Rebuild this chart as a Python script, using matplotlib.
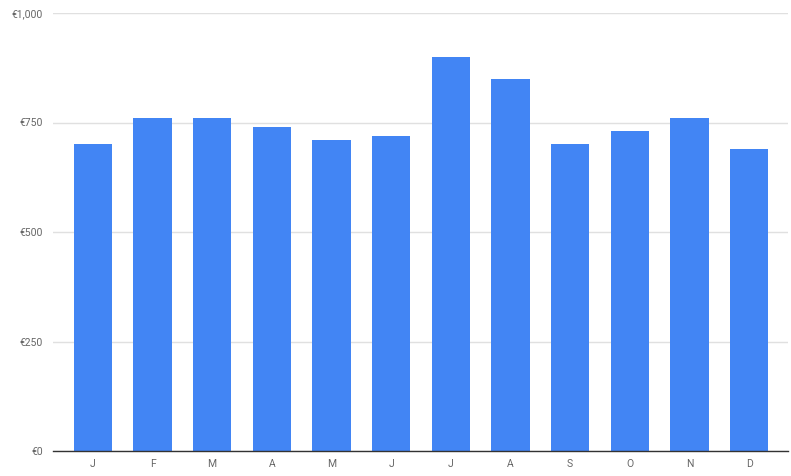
import matplotlib
matplotlib.use("Agg")
import matplotlib.pyplot as plt
from matplotlib.ticker import FuncFormatter

months = ["J", "F", "M", "A", "M", "J", "J", "A", "S", "O", "N", "D"]
values = [700, 760, 760, 740, 710, 720, 900, 850, 700, 730, 760, 690]
yticks = [0, 250, 500, 750, 1000]

plt.rcParams['font.family'] = ['Roboto', 'DejaVu Sans']

W, H = 791, 476
fig = plt.figure(figsize=(W / 100, H / 100), dpi=100)
left, right, top, bottom = 53, 788, 13, 451
ax = fig.add_axes([left / W, (H - bottom) / H, (right - left) / W, (bottom - top) / H])

x = list(range(len(months)))
ax.bar(x, values, width=0.645, color="#4285F4", zorder=3)

pitch = 59.66
ax.set_xlim(-0.5 - 10 / pitch, 11.5 + 9 / pitch)
ax.set_ylim(0, 1000)
ax.set_yticks(yticks)
ax.yaxis.set_major_formatter(FuncFormatter(lambda v, p: "€{:,.0f}".format(v)))
ax.set_xticks(x)
ax.set_xticklabels(months)

ax.grid(axis="y", color="#e0e0e0", linewidth=1, zorder=0)
for s in ["top", "right", "left"]:
    ax.spines[s].set_visible(False)
ax.spines["bottom"].set_color("#333333")
ax.spines["bottom"].set_linewidth(1)
ax.spines["bottom"].set_zorder(4)
ax.tick_params(axis="both", length=0, labelsize=7.5, labelcolor="#666666")
ax.tick_params(axis="y", pad=7)
ax.tick_params(axis="x", pad=6)

fig.savefig("out.png", dpi=100)
